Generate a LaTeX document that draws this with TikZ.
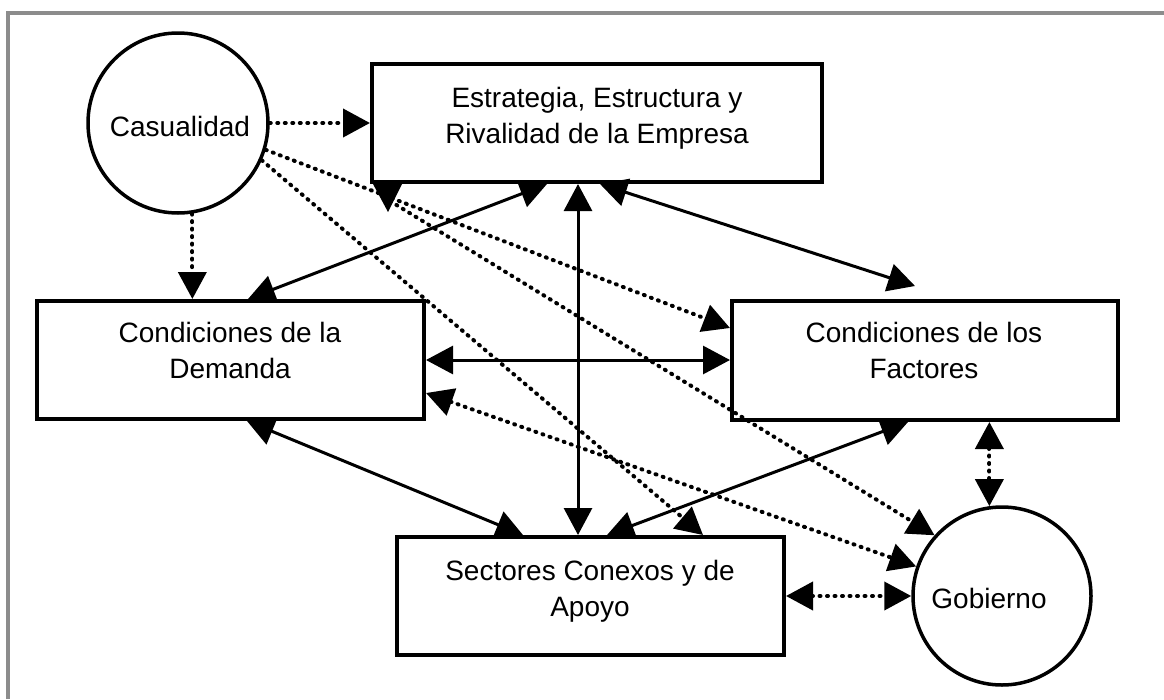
\documentclass[tikz,border=0pt]{standalone}
\usepackage{fontspec}
\setmainfont{Liberation Sans}
\usetikzlibrary{arrows.meta,calc}
\begin{document}
\begin{tikzpicture}[x=1pt,y=-1pt,
  >={Triangle[length=27pt,width=28pt]},
  box/.style={draw,line width=4pt,minimum width=#1,minimum height=118pt,inner sep=0pt},
  circ/.style={draw,circle,line width=3.5pt,minimum size=180pt,inner sep=0pt},
  lbl/.style={font=\fontsize{28}{36}\selectfont,align=center,inner sep=0pt},
  solidc/.style={line width=3pt},
  dotc/.style={line width=4pt,line cap=round,dash pattern=on 1pt off 6.5pt},
  frame/.style={draw=black!45,line width=4pt}]
\useasboundingbox (0,0) rectangle (1164,699);
\draw[frame] (8,699) -- (8,13) -- (1164,13);

% nodes
\node[circ] (cas) at (178,123) {};
\node[lbl] (casT) at (180,126) {Casualidad};
\node[box=450pt] (estr) at (597,123) {};
\node[lbl,anchor=north] (estrT) at (597,87) {Estrategia, Estructura y\\Rivalidad de la Empresa};
\node[box=387pt] (dem) at (230.5,360) {};
\node[lbl,anchor=north] (demT) at (230,322) {Condiciones de la\\Demanda};
\node[box=386pt,minimum height=119pt] (fact) at (925,360.5) {};
\node[lbl,anchor=north] (factT) at (924,322) {Condiciones de los\\Factores};
\node[box=387pt] (sect) at (590.5,596) {};
\node[lbl,anchor=north] (sectT) at (590,560) {Sectores Conexos y de\\Apoyo};
\node[circ,minimum size=178pt] (gob) at (1002,596) {};
\node[lbl] (gobT) at (989,598) {Gobierno};

\coordinate (eg) at ($(estr.south west)+(20,17)$);
\coordinate (ft) at ($(fact.north)+(-10,-13)$);

% solid connectors
\draw[solidc,<->] (547,0 |- estr.south) -- (248,0 |- dem.north);
\draw[solidc,<->] (578,0 |- estr.south) -- (578,0 |- sect.north);
\draw[solidc,<->] (600,0 |- estr.south) -- (ft);
\draw[solidc,<->] (dem.east |- 0,360) -- (fact.west |- 0,360);
\draw[solidc,<->] (247,0 |- dem.south) -- (523,0 |- sect.north);
\draw[solidc,<->] (908,0 |- fact.south) -- (607,0 |- sect.north);

% dotted connectors
\draw[dotc,->] (cas.east) -- (cas.east -| estr.west);
\draw[dotc,->] (cas.-81) -- (cas.-81 |- dem.north);
\draw[dotc,->] (cas.-17) -- (fact.west |- 0,328);
\draw[dotc,->] (cas.-24) -- (703,0 |- sect.north);
\draw[dotc,->] (eg) -- (gob.138);
\fill (373,184) -- (402,184) -- (388,212) -- cycle;
\draw[dotc,<->] (dem.east |- 0,393) -- (gob.161);
\draw[dotc,<->] (gob.98 |- fact.south) -- (gob.98);
\draw[dotc,<->] (sect.east) -- (gob.west);
\end{tikzpicture}
\end{document}
